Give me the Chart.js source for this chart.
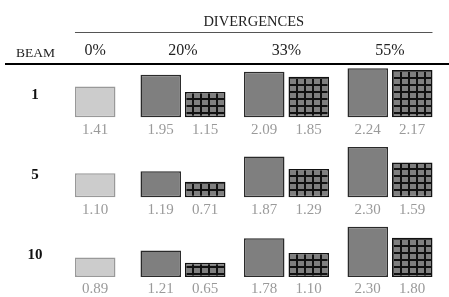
<!DOCTYPE html>
<html>
<head>
<meta charset="utf-8">
<script src="https://cdn.jsdelivr.net/npm/chart.js@4/dist/chart.umd.min.js"></script>
<style>
html,body{margin:0;padding:0;background:#fff;}
#wrap{width:449px;height:297px;}
canvas{display:block;}
</style>
</head>
<body>
<div id="wrap"><canvas id="c" width="449" height="297"></canvas></div>
<script>
// ---- data ----
const columns = ['0%', '20%', '33%', '55%'];
const beams = ['1', '5', '10'];
const noDivergence = [1.41, 1.10, 0.89];            // 0% column, one per beam
const solidBars = [[1.95, 2.09, 2.24],              // beam 1 : 20%, 33%, 55%
                   [1.19, 1.87, 2.30],              // beam 5
                   [1.21, 1.78, 2.30]];             // beam 10
const hatchedBars = [[1.15, 1.85, 2.17],
                     [0.71, 1.29, 1.59],
                     [0.65, 1.10, 1.80]];

// ---- layout / style constants ----
const SERIF = '"Liberation Serif", "Times New Roman", serif';
const COLUMN_WEIGHTS = [0.696, 1, 1, 1];
const Y_MIN = -0.92;
const Y_MAX = [2.44, 2.75, 2.74];

// weighted category scale so the single-bar column is narrower
class ColumnScale extends Chart.CategoryScale {
  getPixelForValue(value) {
    if (typeof value !== 'number') value = this.parse(value);
    if (value === null || value === undefined || isNaN(value)) return NaN;
    const w = COLUMN_WEIGHTS;
    const total = w.reduce((a, b) => a + b, 0);
    const i = Math.max(0, Math.min(w.length - 1, Math.round(value)));
    let acc = 0;
    for (let k = 0; k < i; k++) acc += w[k];
    acc += w[i] / 2 + (value - i) * w[i];
    return this.left + (this.right - this.left) * acc / total;
  }
}
ColumnScale.id = 'column';
ColumnScale.defaults = Chart.CategoryScale.defaults;
Chart.register(ColumnScale);

function hatchPattern() {
  const c = document.createElement('canvas');
  c.width = 8; c.height = 7;
  const g = c.getContext('2d');
  g.fillStyle = '#7f7f7f';
  g.fillRect(0, 0, 8, 7);
  g.fillStyle = '#111';
  g.fillRect(0, 0, 8, 2);
  g.fillRect(0, 0, 2, 7);
  return g.createPattern(c, 'repeat');
}
const hatch = hatchPattern();

const datasets = [];
const scales = {
  x: {
    type: 'column',
    position: 'top',
    grid: { display: false, drawTicks: false },
    border: { display: false },
    ticks: { padding: 3.5, maxRotation: 0, autoSkip: false, color: '#222',
             font: { family: SERIF, size: 16 } },
    afterFit(s) { s.height = 64; }
  }
};
beams.forEach((b, r) => {
  const yid = 'y' + r;
  datasets.push({
    label: 'beam ' + b + ' 0%',
    data: [noDivergence[r], null, null, null],
    yAxisID: yid, grouped: false, maxBarThickness: 40.5,
    backgroundColor: '#cccccc', borderColor: '#999999', borderWidth: 1.5, borderSkipped: false
  });
  datasets.push({
    label: 'beam ' + b + ' solid',
    data: [null].concat(solidBars[r]),
    yAxisID: yid, stack: 'solid',
    categoryPercentage: 1.014, barPercentage: 0.91,
    backgroundColor: '#7f7f7f', borderColor: '#2a2a2a', borderWidth: 1.5, borderSkipped: false
  });
  datasets.push({
    label: 'beam ' + b + ' hatched',
    data: [null].concat(hatchedBars[r]),
    yAxisID: yid, stack: 'hatch',
    categoryPercentage: 1.014, barPercentage: 0.91,
    backgroundColor: hatch, borderColor: '#111', borderWidth: 1.5, borderSkipped: false
  });
  scales[yid] = {
    type: 'linear', position: 'left', stack: 'rows', stacked: false,
    stackWeight: Y_MAX[r] - Y_MIN, weight: 3 - r,
    min: Y_MIN, max: Y_MAX[r],
    grid: { display: false, drawTicks: false },
    border: { display: false },
    afterBuildTicks(s) { s.ticks = [{ value: 1 }]; },
    afterFit(s) { s.width = 59.2; s.paddingTop = 0; s.paddingBottom = 0; },
    ticks: {
      crossAlign: 'center',
      padding: 24.2 - 3.75 * b.length,
      color: '#111',
      font: { family: SERIF, size: 15, weight: 'bold' },
      callback: () => b
    }
  };
});

const decor = {
  id: 'decor',
  afterDraw(chart) {
    const { ctx, chartArea } = chart;
    ctx.save();
    ctx.strokeStyle = '#000';
    ctx.lineWidth = 2;
    ctx.beginPath();
    ctx.moveTo(5, chartArea.top);
    ctx.lineTo(chart.width, chartArea.top);
    ctx.stroke();

    const first = chart.getDatasetMeta(0).data[0];
    const last = chart.getDatasetMeta(2).data[3];
    const l = first.x - first.width / 2, r = last.x + last.width / 2;
    ctx.lineWidth = 1;
    ctx.strokeStyle = '#555';
    ctx.beginPath();
    ctx.moveTo(l, 32.5);
    ctx.lineTo(r, 32.5);
    ctx.stroke();

    ctx.fillStyle = '#222';
    ctx.textAlign = 'center';
    ctx.textBaseline = 'alphabetic';
    ctx.font = '14.5px ' + SERIF;
    ctx.fillText('DIVERGENCES', (l + r) / 2, 25.7);
    ctx.font = '13.5px ' + SERIF;
    ctx.fillText('BEAM', 35.5, 57);

    ctx.font = '15px ' + SERIF;
    ctx.fillStyle = '#9a9a9a';
    chart.data.datasets.forEach((ds, i) => {
      const meta = chart.getDatasetMeta(i);
      meta.data.forEach((el, j) => {
        const v = ds.data[j];
        if (v === null || v === undefined) return;
        ctx.fillText(v.toFixed(2), el.x, el.base + 16.5);
      });
    });
    ctx.restore();
  }
};

new Chart(document.getElementById('c'), {
  type: 'bar',
  data: { labels: columns, datasets },
  options: {
    responsive: false,
    animation: false,
    devicePixelRatio: 1,
    events: [],
    layout: { padding: { left: 0, right: 7.25, top: 0, bottom: 0 } },
    plugins: { legend: { display: false }, tooltip: { enabled: false } },
    scales
  },
  plugins: [decor]
});
</script>
</body>
</html>
